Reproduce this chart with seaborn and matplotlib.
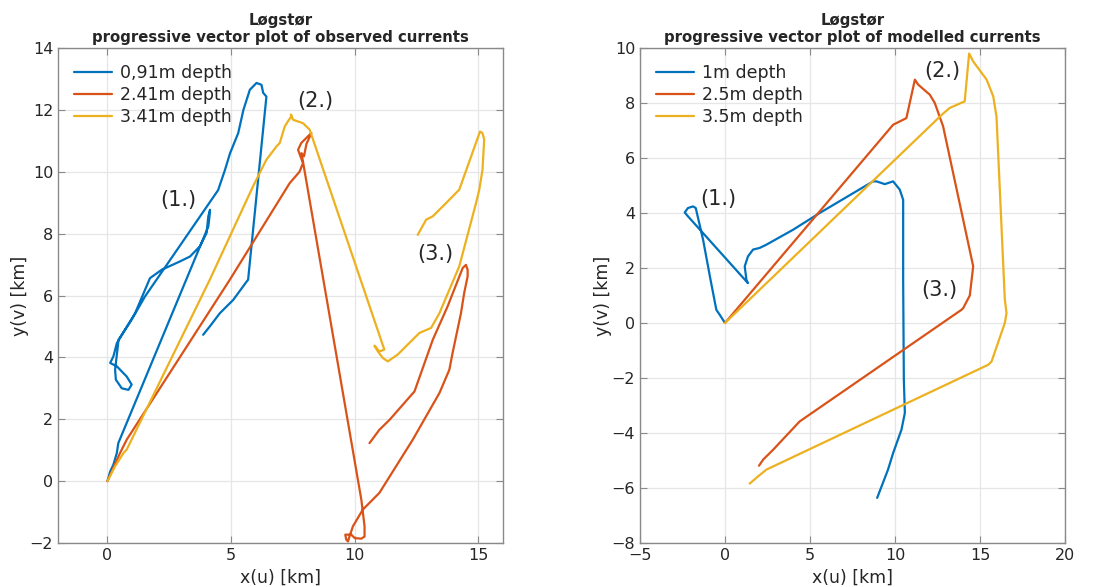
import numpy as np
import pandas as pd
import matplotlib
matplotlib.use("Agg")
import matplotlib.pyplot as plt
import seaborn as sns

# ---------------- data: observed currents ----------------
obs_labels = ["0,91m depth", "2.41m depth", "3.41m depth"]
obs_blue_x = [0, 0.11, 0.24, 0.38, 0.44, 4.08, 4.12, 4.15, 4.08, 4.01, 3.74, 3.34, 2.93, 2.19, 1.72,
              1.12, 0.38, 0.24, 0.11, 0.38, 0.78, 0.98, 0.85, 0.58, 0.34, 0.31, 0.45, 0.98, 1.52, 2.26,
              4.48, 4.55, 4.75, 4.96, 5.29, 5.5, 5.76, 6.03, 6.23, 6.3, 6.43, 5.69, 5.63, 5.09, 4.55,
              4.14, 3.87]
obs_blue_y = [0, 0.31, 0.53, 0.91, 1.23, 8.23, 8.5, 8.77, 8.56, 8.02, 7.59, 7.26, 7.1, 6.83, 6.56,
              5.43, 4.46, 4.03, 3.82, 3.71, 3.38, 3.12, 2.95, 3.0, 3.28, 3.6, 4.57, 5.22, 5.97, 6.83,
              9.41, 9.58, 10.05, 10.6, 11.25, 12.0, 12.65, 12.87, 12.81, 12.55, 12.43, 6.51, 6.45, 5.86,
              5.43, 5.0, 4.73]
obs_red_x = [0, 0.51, 0.78, 4.95, 7.37, 7.77, 7.91, 7.71, 7.84, 8.18, 8.25, 8.05, 7.95, 7.85,
             10.27, 10.40, 10.40, 10.27, 10.0, 9.86, 9.62, 9.66, 9.73, 9.79, 9.93, 10.33, 11.0,
             12.35, 13.43, 13.83, 13.96, 14.3, 14.43, 14.57, 14.57, 14.5, 14.37, 13.76, 13.16,
             12.42, 11.41, 11.0, 10.6]
obs_red_y = [0, 0.91, 1.34, 6.51, 9.63, 10.0, 10.28, 10.71, 10.93, 11.2, 11.25, 10.9, 10.5, 10.6,
             -0.6, -1.46, -1.79, -1.86, -1.84, -1.73, -1.73, -1.89, -1.95, -1.79, -1.46, -0.92, -0.38,
             1.34, 2.85, 3.6, 4.14, 5.43, 6.08, 6.62, 6.83, 6.99, 6.89, 5.65, 4.57,
             2.9, 1.98, 1.66, 1.23]
obs_yel_x = [0, 0.31, 0.65, 0.78, 4.14, 5.89, 6.43, 6.84, 6.97, 7.17, 7.3, 7.44, 7.42, 7.51, 7.91,
             8.18, 11.2, 11.0, 10.8, 10.94, 11.14, 11.34, 11.74, 12.62, 13.09, 13.43, 14.23, 14.91,
             15.04, 15.17, 15.24, 15.17, 15.07, 14.23, 13.7, 13.16, 12.89, 12.55]
obs_yel_y = [0, 0.48, 0.91, 1.02, 6.51, 9.53, 10.39, 10.82, 10.93, 11.46, 11.63, 11.79, 11.85, 11.68,
             11.57, 11.36, 4.25, 4.19, 4.38, 4.19, 3.98, 3.87, 4.09, 4.79, 4.95, 5.43, 6.94, 8.99,
             9.42, 10.06, 11.04, 11.25, 11.30, 9.42, 8.99, 8.56, 8.45, 7.96]

# ---------------- data: modelled currents ----------------
mod_labels = ["1m depth", "2.5m depth", "3.5m depth"]
mod_blue_x = [0, -0.31, -0.51, -0.85, -1.29, -1.72, -1.88, -2.18, -2.37, -2.18, 1.35, 1.26, 1.16,
              1.35, 1.65, 2.04, 2.44, 4.0, 5.57, 8.71, 8.91, 9.4, 9.89, 10.28, 10.48, 10.48, 10.52,
              10.58, 10.38, 9.89, 9.59, 8.95]
mod_blue_y = [0, 0.3, 0.48, 1.57, 3.03, 4.18, 4.24, 4.18, 4.02, 3.88, 1.45, 1.57, 2.06,
              2.42, 2.67, 2.73, 2.85, 3.39, 4.0, 5.15, 5.15, 5.05, 5.15, 4.85, 4.48, 1.57, -2.06,
              -3.27, -3.88, -4.73, -5.33, -6.36]
mod_red_x = [0, 9.89, 10.67, 11.17, 11.36, 12.05, 12.34, 12.83, 14.6, 14.4, 14.01, 13.91, 4.39,
             2.83, 2.24, 2.0]
mod_red_y = [0, 7.21, 7.45, 8.85, 8.67, 8.3, 8.0, 7.15, 2.06, 1.0, 0.54, 0.48, -3.58,
             -4.61, -4.97, -5.19]
mod_yel_x = [0, 12.8, 13.22, 14.1, 14.36, 14.6, 15.39, 15.78, 15.97, 16.46, 16.56, 16.46, 15.68,
             15.48, 2.44, 1.94, 1.45]
mod_yel_y = [0, 7.6, 7.82, 8.06, 9.8, 9.51, 8.85, 8.24, 7.51, 0.85, 0.36, 0.0, -1.4,
             -1.52, -5.33, -5.58, -5.84]

colors = ["#0072BD", "#D95319", "#EDB120"]

sns.set_style("ticks")
plt.rcParams["font.family"] = ["DejaVu Sans"]

fig = plt.figure(figsize=(11.08, 5.87), dpi=100)
ax1 = fig.add_axes([58 / 1108, 44 / 587, 445 / 1108, 495 / 587])
ax2 = fig.add_axes([640 / 1108, 44 / 587, 425 / 1108, 495 / 587])


def draw(ax, xs, ys, labels):
    for x, y, lab, c in zip(xs, ys, labels, colors):
        df = pd.DataFrame({"x": x, "y": y})
        sns.lineplot(data=df, x="x", y="y", sort=False, estimator=None, color=c,
                     linewidth=1.6, label=lab, ax=ax)


draw(ax1, [obs_blue_x, obs_red_x, obs_yel_x], [obs_blue_y, obs_red_y, obs_yel_y], obs_labels)
draw(ax2, [mod_blue_x, mod_red_x, mod_yel_x], [mod_blue_y, mod_red_y, mod_yel_y], mod_labels)

ax1.set_xlim(-2, 16)
ax1.set_ylim(-2, 14)
ax1.set_xticks([0, 5, 10, 15])
ax1.set_yticks(np.arange(-2, 15, 2))
ax2.set_xlim(-5, 20)
ax2.set_ylim(-8, 10)
ax2.set_xticks(np.arange(-5, 21, 5))
ax2.set_yticks(np.arange(-8, 11, 2))

titles = ["Løgstør\nprogressive vector plot of observed currents",
          "Løgstør\nprogressive vector plot of modelled currents"]
for ax, t in zip([ax1, ax2], titles):
    ax.grid(True, color="#e6e6e6", linewidth=0.9)
    ax.set_axisbelow(True)
    for s in ax.spines.values():
        s.set_visible(True)
        s.set_color("#8a8a8a")
        s.set_linewidth(1.0)
    ax.tick_params(direction="in", top=True, right=True, length=5, color="#8a8a8a",
                   labelsize=11.5, labelcolor="#262626", width=0.8)
    ax.set_xlabel("x(u) [km]", fontsize=12.5, color="#262626", labelpad=4)
    ax.set_ylabel("y(v) [km]", fontsize=12.5, color="#262626")
    ax.yaxis.set_label_coords(-0.066, 0.5)
    ax.set_title(t, fontsize=10.7, fontweight="bold", pad=4, linespacing=1.2)
    ax.legend(loc="upper left", frameon=False, fontsize=12.5, handlelength=2.2,
              borderaxespad=0.5, labelspacing=0.25, handletextpad=0.5,
              bbox_to_anchor=(0.0, 1.0))

ann = dict(fontsize=15, ha="center", va="center")
ax1.text(2.85, 9.1, "(1.)", **ann)
ax1.text(8.42, 12.3, "(2.)", **ann)
ax1.text(13.26, 7.35, "(3.)", **ann)
ax2.text(-0.37, 4.52, "(1.)", **ann)
ax2.text(12.78, 9.17, "(2.)", **ann)
ax2.text(12.58, 1.21, "(3.)", **ann)

fig.savefig("out.png", dpi=100)
